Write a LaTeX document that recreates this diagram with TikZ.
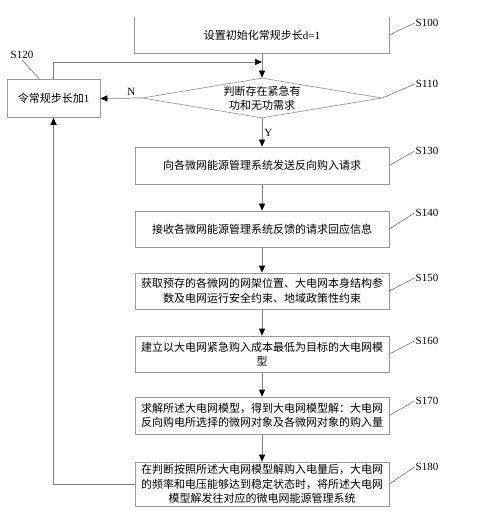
\documentclass[tikz,border=0pt]{standalone}
\usepackage{fontspec}
\setmainfont{Liberation Serif}
\newfontfamily\cjk{Noto Sans CJK SC}
\usetikzlibrary{shapes.geometric,arrows.meta}

\tikzset{
  stepbox/.style={draw=black!40, line width=0.7pt, minimum width=254pt, text width=248pt,
    align=center, inner sep=0pt, font=\cjk\fontsize{11}{14.5}\selectfont},
  decision/.style={draw=black!40, line width=0.7pt, shape=diamond, aspect=6, inner sep=0pt,
    minimum width=240pt, minimum height=40pt, align=center, font=\cjk\fontsize{11}{14}\selectfont},
  flow/.style={draw=black!50, line width=0.7pt, -{Triangle[length=7pt,width=6pt,color=black]}},
  lead/.style={draw=black!60, line width=0.5pt},
  steplbl/.style={inner sep=1pt, font=\fontsize{11}{12}\selectfont},
  yn/.style={inner sep=2pt, font=\fontsize{11}{12}\selectfont}
}

\begin{document}
\begin{tikzpicture}[x=1pt,y=-1pt]
  \useasboundingbox (0,0) rectangle (483,521);

  % boxes of the main column
  \node[stepbox, draw=none, minimum height=36pt] (s100) at (262,35) {设置初始化常规步长{\rmfamily d=1}};
  \draw[draw=black!40, line width=0.7pt] (s100.north west) -- (s100.south west) -- (s100.south east) -- (s100.north east);
  \node[decision] (cond) at (262,98) {判断存在紧急有\\功和无功需求};
  \node[stepbox, minimum width=93pt, text width=88pt, minimum height=38pt] (incr) at (53.5,98.5) {令常规步长加{\rmfamily 1}};
  \node[stepbox, minimum height=37pt] (s130) at (262,165.5) {向各微网能源管理系统发送反向购入请求};
  \node[stepbox, minimum height=36pt] (s140) at (262,229) {接收各微网能源管理系统反馈的请求回应信息};
  \node[stepbox, minimum height=36pt] (s150) at (262,291) {获取预存的各微网的网架位置、大电网本身结构参\\数及电网运行安全约束、地域政策性约束};
  \node[stepbox, minimum height=36pt] (s160) at (262,354) {建立以大电网紧急购入成本最低为目标的大电网模\\型};
  \node[stepbox, minimum height=37pt] (s170) at (262,415.5) {求解所述大电网模型，得到大电网模型解：大电网\\反向购电所选择的微网对象及各微网对象的购入量};
  \node[stepbox, minimum height=44pt] (s180) at (262,484) {在判断按照所述大电网模型解购入电量后，大电网\\的频率和电压能够达到稳定状态时，将所述大电网\\模型解发往对应的微电网能源管理系统};

  % step labels
  \node[steplbl] (l100) at (427,23) {S100};
  \node[steplbl] (l110) at (427,84) {S110};
  \node[steplbl] (l120) at (22,55) {S120};
  \node[steplbl] (l130) at (427,151) {S130};
  \node[steplbl] (l140) at (427,213) {S140};
  \node[steplbl] (l150) at (427,278) {S150};
  \node[steplbl] (l160) at (427,341) {S160};
  \node[steplbl] (l170) at (427,401) {S170};
  \node[steplbl] (l180) at (427,467) {S180};

  \draw[lead] (s100.east) -- (l100.west);
  \draw[lead] (cond.east) -- (l110.west);
  \draw[lead] ([xshift=-14pt]incr.north) -- (l120.south);
  \draw[lead] (s130.east) -- (l130.west);
  \draw[lead] (s140.east) -- (l140.west);
  \draw[lead] (s150.east) -- (l150.west);
  \draw[lead] (s160.east) -- (l160.west);
  \draw[lead] (s170.east) -- (l170.west);
  \draw[lead] (s180.east) -- (l180.west);

  % connectors
  \coordinate (join) at (262,62);
  \draw[flow] (s100.south) -- (cond.north);
  \draw[flow] (incr.north) |- (join);
  \draw[flow] (cond.west) -- node[yn, pos=0.25, above] {N} (incr.east);
  \draw[flow] (cond.south) -- node[yn, right] {Y} (s130.north);
  \draw[flow] (s130) -- (s140);
  \draw[flow] (s140) -- (s150);
  \draw[flow] (s150) -- (s160);
  \draw[flow] (s160) -- (s170);
  \draw[flow] (s170) -- (s180);
  \draw[flow] (s180.west) -| (incr.south);
\end{tikzpicture}
\end{document}
